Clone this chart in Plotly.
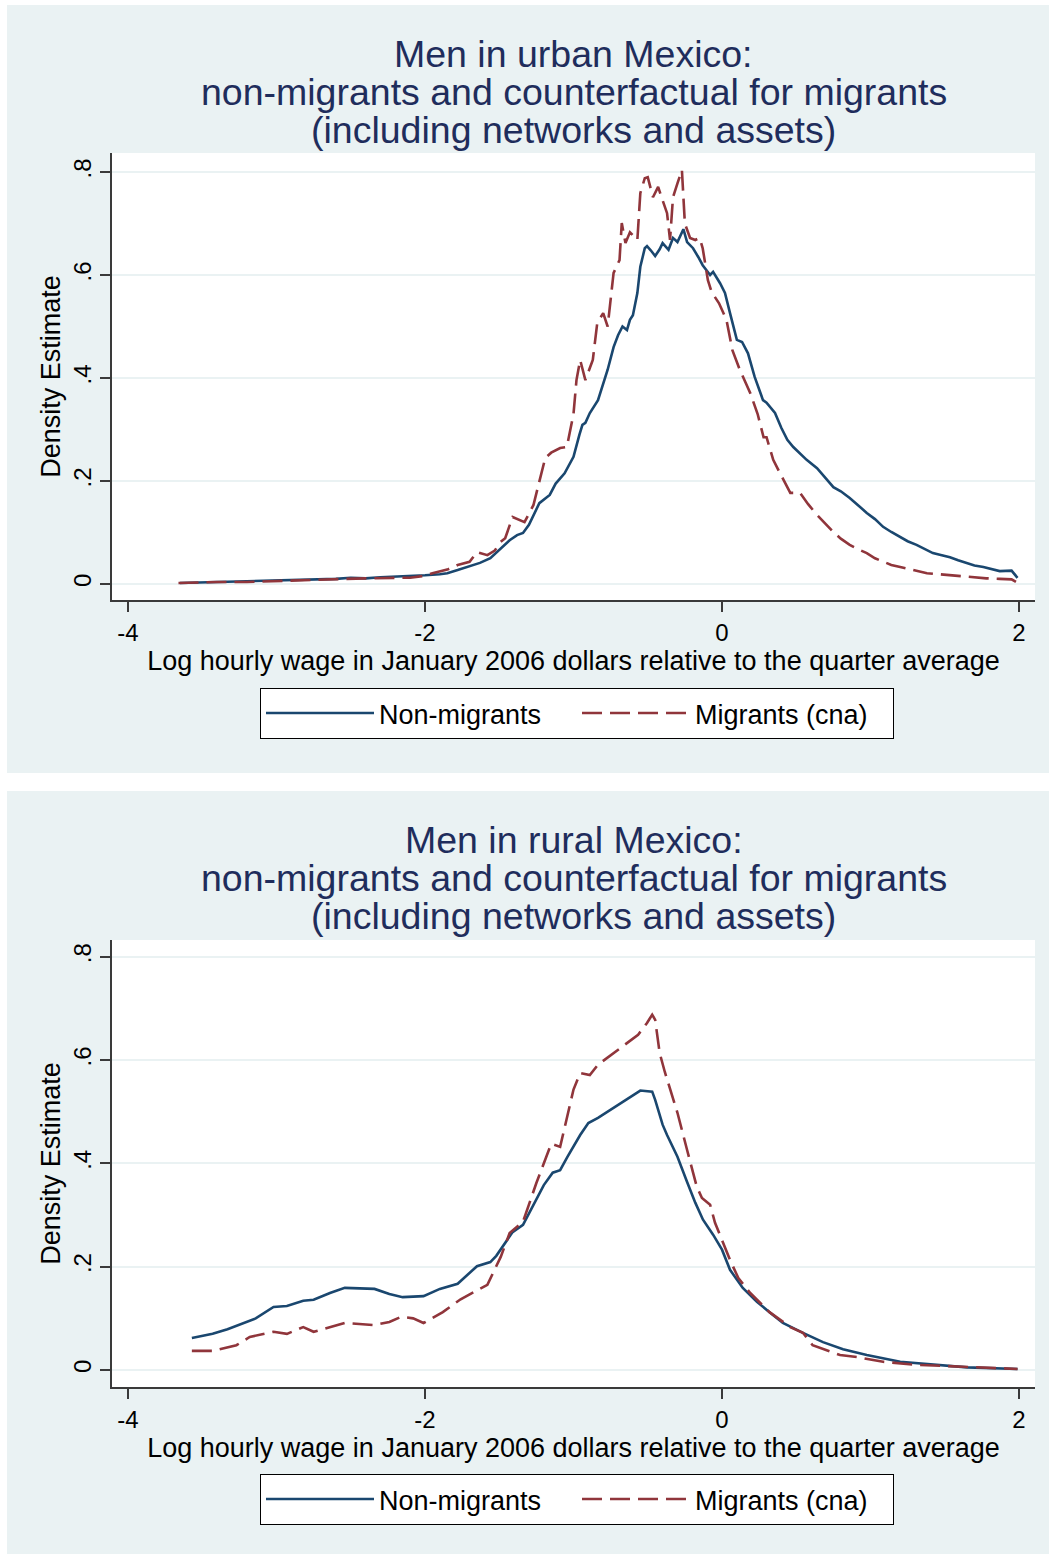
import plotly.graph_objects as go

# ---------------- data ----------------
urban_x_non = [-3.65, -3.4, -3.2, -3.0, -2.8, -2.6, -2.5, -2.4, -2.3, -2.2, -2.1, -2.0, -1.9, -1.85, -1.78,
               -1.70, -1.63, -1.56, -1.50, -1.43, -1.38, -1.34, -1.30, -1.23, -1.16, -1.12, -1.06, -1.00,
               -0.96, -0.94, -0.92, -0.89, -0.835, -0.80, -0.77, -0.73, -0.70, -0.67, -0.64, -0.62, -0.60,
               -0.57, -0.55, -0.52, -0.505, -0.48, -0.45, -0.42, -0.40, -0.36, -0.33, -0.30, -0.26, -0.235,
               -0.195, -0.16, -0.13, -0.08, -0.06, -0.013, 0.02, 0.054, 0.10, 0.135, 0.175, 0.22, 0.276,
               0.30, 0.357, 0.40, 0.44, 0.48, 0.525, 0.57, 0.64, 0.70, 0.75, 0.80, 0.86, 0.92, 0.975, 1.03,
               1.085, 1.14, 1.20, 1.25, 1.31, 1.36, 1.42, 1.48, 1.535, 1.59, 1.65, 1.70, 1.76, 1.82, 1.87,
               1.95, 1.99]
urban_d_non = [0.002, 0.004, 0.005, 0.006, 0.008, 0.010, 0.012, 0.011, 0.013, 0.014, 0.015, 0.017, 0.019,
               0.021, 0.027, 0.035, 0.041, 0.050, 0.066, 0.085, 0.095, 0.099, 0.115, 0.157, 0.173, 0.195,
               0.215, 0.247, 0.290, 0.309, 0.313, 0.332, 0.357, 0.390, 0.416, 0.460, 0.483, 0.500, 0.493,
               0.513, 0.522, 0.565, 0.616, 0.652, 0.656, 0.648, 0.637, 0.650, 0.662, 0.649, 0.672, 0.664,
               0.689, 0.664, 0.652, 0.635, 0.619, 0.600, 0.606, 0.584, 0.565, 0.526, 0.474, 0.470, 0.448,
               0.402, 0.357, 0.352, 0.332, 0.303, 0.280, 0.266, 0.254, 0.241, 0.225, 0.205, 0.188, 0.180,
               0.167, 0.152, 0.138, 0.126, 0.111, 0.101, 0.092, 0.083, 0.076, 0.068, 0.060, 0.056, 0.052,
               0.046, 0.040, 0.036, 0.033, 0.028, 0.025, 0.026, 0.012]

urban_x_mig = [-3.66, -3.4, -3.2, -3.0, -2.8, -2.6, -2.5, -2.4, -2.2, -2.1, -2.0, -1.95, -1.85, -1.78,
               -1.70, -1.65, -1.58, -1.53, -1.49, -1.46, -1.41, -1.37, -1.33, -1.27, -1.23, -1.19, -1.15,
               -1.09, -1.045, -1.00, -0.98, -0.955, -0.92, -0.87, -0.84, -0.80, -0.77, -0.73, -0.69,
               -0.675, -0.65, -0.62, -0.57, -0.55, -0.52, -0.50, -0.465, -0.43, -0.40, -0.37, -0.35,
               -0.33, -0.30, -0.27, -0.25, -0.215, -0.18, -0.15, -0.13, -0.095, -0.07, -0.02, 0.03, 0.07,
               0.12, 0.19, 0.24, 0.28, 0.30, 0.345, 0.40, 0.46, 0.525, 0.58, 0.64, 0.70, 0.75, 0.80, 0.86,
               0.92, 0.975, 1.03, 1.085, 1.14, 1.20, 1.30, 1.38, 1.46, 1.535, 1.62, 1.69, 1.78, 1.87, 1.95,
               1.985]
urban_d_mig = [0.002, 0.004, 0.004, 0.006, 0.007, 0.009, 0.010, 0.011, 0.012, 0.012, 0.016, 0.021, 0.028,
               0.037, 0.043, 0.062, 0.056, 0.065, 0.082, 0.089, 0.130, 0.125, 0.120, 0.153, 0.200, 0.245,
               0.255, 0.264, 0.266, 0.330, 0.396, 0.435, 0.396, 0.435, 0.507, 0.526, 0.500, 0.604, 0.629,
               0.701, 0.662, 0.683, 0.668, 0.759, 0.788, 0.790, 0.751, 0.771, 0.745, 0.720, 0.668, 0.751,
               0.778, 0.804, 0.700, 0.672, 0.668, 0.672, 0.652, 0.590, 0.567, 0.545, 0.513, 0.454, 0.416,
               0.371, 0.330, 0.285, 0.285, 0.241, 0.210, 0.177, 0.177, 0.155, 0.134, 0.115, 0.101, 0.088,
               0.076, 0.067, 0.060, 0.050, 0.043, 0.037, 0.033, 0.026, 0.021, 0.019, 0.017, 0.015, 0.013,
               0.011, 0.010, 0.009, 0.003]

rural_x_non = [-3.57, -3.43, -3.33, -3.26, -3.14, -3.02, -2.93, -2.82, -2.75, -2.64, -2.54, -2.34, -2.24,
               -2.15, -2.01, -1.90, -1.78, -1.65, -1.56, -1.52, -1.41, -1.34, -1.20, -1.14, -1.09, -1.04,
               -0.955, -0.90, -0.835, -0.55, -0.47, -0.45, -0.40, -0.37, -0.30, -0.235, -0.18, -0.128,
               -0.06, 0.0, 0.054, 0.14, 0.235, 0.32, 0.41, 0.545, 0.68, 0.815, 0.975, 1.20, 1.42, 1.65, 1.99]
rural_d_non = [0.062, 0.070, 0.079, 0.087, 0.100, 0.122, 0.124, 0.134, 0.136, 0.149, 0.159, 0.157, 0.147,
               0.141, 0.143, 0.157, 0.167, 0.201, 0.209, 0.221, 0.267, 0.281, 0.358, 0.382, 0.387, 0.413,
               0.455, 0.478, 0.488, 0.541, 0.539, 0.523, 0.475, 0.455, 0.413, 0.364, 0.324, 0.291, 0.262,
               0.233, 0.194, 0.159, 0.132, 0.112, 0.091, 0.072, 0.054, 0.040, 0.029, 0.016, 0.010, 0.005,
               0.002]

rural_x_mig = [-3.57, -3.43, -3.27, -3.18, -3.02, -2.93, -2.82, -2.75, -2.54, -2.34, -2.24, -2.16, -2.08,
               -2.01, -1.88, -1.76, -1.58, -1.49, -1.43, -1.34, -1.25, -1.15, -1.09, -1.00, -0.955, -0.89,
               -0.835, -0.565, -0.505, -0.47, -0.45, -0.42, -0.385, -0.30, -0.235, -0.17, -0.135, -0.08,
               -0.047, 0.054, 0.11, 0.19, 0.32, 0.46, 0.545, 0.61, 0.795, 0.91, 1.085, 1.31, 1.99]
rural_d_mig = [0.037, 0.037, 0.048, 0.064, 0.074, 0.070, 0.083, 0.074, 0.091, 0.087, 0.093, 0.103, 0.100,
               0.091, 0.112, 0.137, 0.165, 0.219, 0.265, 0.287, 0.362, 0.438, 0.432, 0.543, 0.575, 0.571,
               0.591, 0.649, 0.672, 0.688, 0.678, 0.614, 0.577, 0.498, 0.426, 0.355, 0.333, 0.320, 0.285,
               0.213, 0.178, 0.149, 0.112, 0.083, 0.072, 0.048, 0.029, 0.025, 0.016, 0.010, 0.002]

x_tick_vals = [-4, -2, 0, 2]
x_tick_text = ["-4", "-2", "0", "2"]
y_tick_vals = [0, 0.2, 0.4, 0.6, 0.8]
y_tick_text = ["0", ".2", ".4", ".6", ".8"]

series_names = ["Non-migrants", "Migrants (cna)"]
titles_urban = ["Men in urban Mexico:", "non-migrants and counterfactual for migrants",
                "(including networks and assets)"]
titles_rural = ["Men in rural Mexico:", "non-migrants and counterfactual for migrants",
                "(including networks and assets)"]
x_title = "Log hourly wage in January 2006 dollars relative to the quarter average"
y_title = "Density Estimate"

# ---------------- styling ----------------
W, H = 1049, 1554
FONT = "Liberation Sans, Arial, sans-serif"
NAVY = "#1A476F"
MAROON = "#90353B"
PANEL = "#EAF2F3"
TITLE_C = "#1F2D5C"
AXIS_C = "#3a3a3a"
DASH = "20px,8px"


def px_x(p):
    return p / W


def px_y(p):
    return 1 - p / H


fig = go.Figure()

panels = [
    dict(xs=(urban_x_non, urban_x_mig), ds=(urban_d_non, urban_d_mig), xa="x", ya="y", legend="legend",
         titles=titles_urban),
    dict(xs=(rural_x_non, rural_x_mig), ds=(rural_d_non, rural_d_mig), xa="x2", ya="y2", legend="legend2",
         titles=titles_rural),
]

for p in panels:
    fig.add_trace(go.Scatter(x=p["xs"][0], y=p["ds"][0], mode="lines", name=series_names[0],
                             line=dict(color=NAVY, width=2.6), xaxis=p["xa"], yaxis=p["ya"],
                             legend=p["legend"]))
    fig.add_trace(go.Scatter(x=p["xs"][1], y=p["ds"][1], mode="lines", name=series_names[1],
                             line=dict(color=MAROON, width=2.6, dash=DASH), xaxis=p["xa"], yaxis=p["ya"],
                             legend=p["legend"]))

# panel geometry (pixels)
panel_boxes = [(7, 5, 1049, 773), (7, 791, 1049, 1554)]
plot_boxes = [(112, 153, 1035, 600), (112, 940, 1035, 1387)]
zero_px = [584, 1370]
px_per_unit = [515.0, 516.5]
title_y = [[54, 92, 130], [840, 878, 916]]
legend_top = [688, 1474]

shapes = []
for (x0, y0, x1, y1) in panel_boxes:
    shapes.append(dict(type="rect", xref="paper", yref="paper", x0=px_x(x0), x1=px_x(x1),
                       y0=px_y(y1), y1=px_y(y0), fillcolor=PANEL, line=dict(width=0), layer="below"))

axis_common = dict(showgrid=False, zeroline=False, showline=True, linecolor=AXIS_C, linewidth=1.5,
                   ticks="outside", ticklen=10, tickwidth=1.5, tickcolor=AXIS_C,
                   tickfont=dict(family=FONT, size=24, color="black"))

layout_axes = {}
annotations = []
for i, p in enumerate(panels):
    x0, y0, x1, y1 = plot_boxes[i]
    xname = "xaxis" if i == 0 else "xaxis2"
    yname = "yaxis" if i == 0 else "yaxis2"
    ymin = -(y1 - zero_px[i]) / px_per_unit[i]
    ymax = (zero_px[i] - y0) / px_per_unit[i]
    xmin = -4 - (128 - x0) / 148.5
    xmax = 2 + (x1 - 1019) / 148.5
    layout_axes[xname] = dict(axis_common, domain=[px_x(x0), px_x(x1)], anchor=p["ya"],
                              range=[xmin, xmax], tickvals=x_tick_vals, ticktext=x_tick_text,
                              title=dict(text=x_title, font=dict(family=FONT, size=27, color="black"),
                                         standoff=0))
    layout_axes[yname] = dict(axis_common, domain=[px_y(y1), px_y(y0)], anchor=p["xa"],
                              range=[ymin, ymax], tickvals=y_tick_vals, ticktext=y_tick_text,
                              tickangle=-90, showgrid=True, gridcolor=PANEL, gridwidth=2,
                              title=dict(text=y_title, font=dict(family=FONT, size=27, color="black"),
                                         standoff=0))
    shapes.append(dict(type="rect", xref=p["xa"] + " domain", yref=p["ya"] + " domain", x0=0, x1=1,
                       y0=0, y1=1, fillcolor="white", line=dict(width=0), layer="below"))
    for t, ty in zip(p["titles"], title_y[i]):
        annotations.append(dict(text=t, xref="paper", yref="paper", x=px_x((x0 + x1) / 2), y=px_y(ty),
                                xanchor="center", yanchor="middle", showarrow=False,
                                font=dict(family=FONT, size=37.5, color=TITLE_C)))

legend_common = dict(orientation="h", bgcolor="white", bordercolor="black", borderwidth=1,
                     font=dict(family=FONT, size=27, color="black"), itemwidth=108,
                     xanchor="left", yanchor="top", x=px_x(260), itemclick=False,
                     tracegroupgap=0, entrywidth=193)

fig.update_layout(
    width=W, height=H,
    margin=dict(l=0, r=0, t=0, b=0, autoexpand=False),
    paper_bgcolor="white", plot_bgcolor="white",
    font=dict(family=FONT),
    showlegend=True,
    legend=dict(legend_common, y=px_y(legend_top[0])),
    legend2=dict(legend_common, y=px_y(legend_top[1])),
    shapes=shapes,
    annotations=annotations,
    **layout_axes,
)

fig.write_html(
    "out.html",
    config={"displayModeBar": False},
    post_script="document.body.style.margin='0';document.body.style.padding='0';"
                "document.body.style.overflow='hidden';"
                "document.documentElement.style.overflow='hidden';",
)
